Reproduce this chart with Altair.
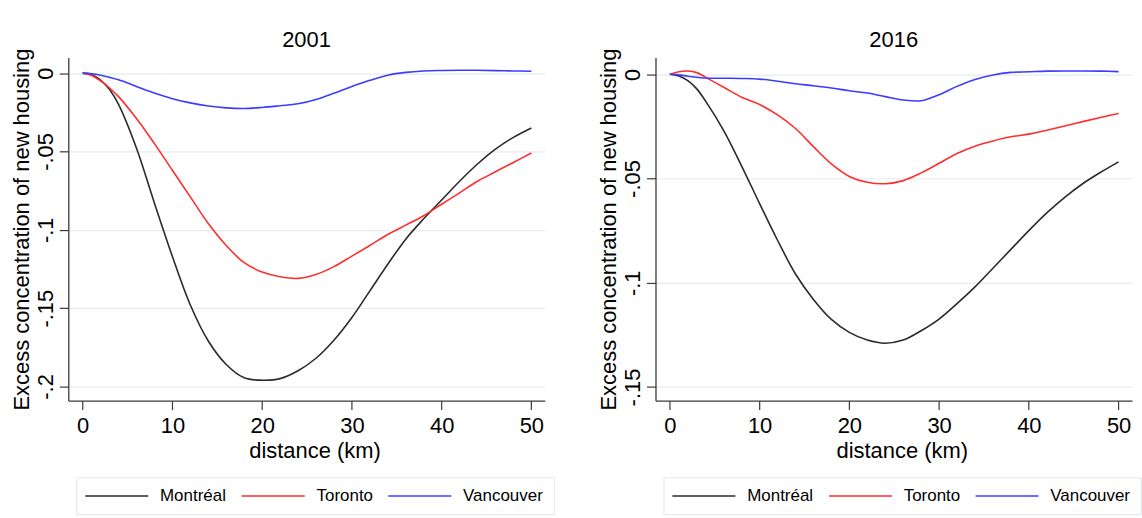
import altair as alt
import pandas as pd

# ---------------- data ----------------
distance = [0, 1, 2, 3, 4, 6, 8, 10, 12, 14, 16, 18, 20, 22, 24, 26, 28, 30,
            32, 34, 36, 38, 40, 42, 44, 46, 48, 50]

cities = ["Montréal", "Toronto", "Vancouver"]
colors = ["#2b2b2b", "#ff2e2e", "#3c3cff"]

montreal_2001 = [0, -0.0008, -0.0045, -0.0105, -0.020, -0.048, -0.083, -0.117, -0.148,
                 -0.171, -0.186, -0.1945, -0.196, -0.195, -0.190, -0.182, -0.1705,
                 -0.156, -0.139, -0.122, -0.106, -0.093, -0.081, -0.069, -0.058,
                 -0.0485, -0.041, -0.035]
toronto_2001 = [0, -0.0015, -0.005, -0.0095, -0.015, -0.029, -0.045, -0.062, -0.079,
                -0.096, -0.110, -0.121, -0.127, -0.130, -0.131, -0.1285, -0.1235,
                -0.1168, -0.110, -0.103, -0.097, -0.091, -0.0837, -0.0764, -0.069,
                -0.063, -0.057, -0.051]
vancouver_2001 = [0, -0.0004, -0.0013, -0.0027, -0.0043, -0.0085, -0.0127, -0.0163,
                  -0.0190, -0.0210, -0.0222, -0.0226, -0.0219, -0.0208, -0.0196,
                  -0.0168, -0.0128, -0.0085, -0.0046, -0.0013, 0.0005, 0.0014,
                  0.0017, 0.0018, 0.0018, 0.0016, 0.0014, 0.0012]

montreal_2016 = [0, -0.0008, -0.003, -0.007, -0.013, -0.027, -0.044, -0.062, -0.0796,
                 -0.0958, -0.108, -0.1176, -0.1238, -0.1275, -0.129, -0.1275, -0.123,
                 -0.1174, -0.110, -0.102, -0.093, -0.084, -0.075, -0.0665, -0.059,
                 -0.0525, -0.047, -0.042]
toronto_2016 = [0, 0.0012, 0.0016, 0.0008, -0.0015, -0.0062, -0.011, -0.0145, -0.0195,
                -0.026, -0.0347, -0.043, -0.049, -0.0518, -0.0525, -0.051, -0.0473,
                -0.0427, -0.038, -0.0345, -0.032, -0.030, -0.0287, -0.0268, -0.0248,
                -0.0227, -0.0207, -0.0188]
vancouver_2016 = [0, -0.0003, -0.0009, -0.0014, -0.0018, -0.0019, -0.0020, -0.0023,
                  -0.0033, -0.0045, -0.0055, -0.0066, -0.0079, -0.0090, -0.0107,
                  -0.0123, -0.0127, -0.0098, -0.0058, -0.0025, -0.0003, 0.0009,
                  0.0012, 0.0015, 0.0016, 0.0016, 0.0015, 0.0013]

x_ticks = [0, 10, 20, 30, 40, 50]
y_ticks_2001 = [0, -0.05, -0.1, -0.15, -0.2]
y_ticks_2016 = [0, -0.05, -0.1, -0.15]

series = {
    "2001": [montreal_2001, toronto_2001, vancouver_2001],
    "2016": [montreal_2016, toronto_2016, vancouver_2016],
}
rows = []
for year, lists in series.items():
    for city, vals in zip(cities, lists):
        for d, v in zip(distance, vals):
            rows.append({"year": year, "city": city, "distance": d, "value": v})
df = pd.DataFrame(rows)

FONT = "Liberation Sans"
W, H = 478, 344
label_expr = ("datum.value == 0 ? '0' : (datum.value < 0 ? '-' : '') + "
              "replace(format(abs(datum.value), '.2~f'), '0.', '.')")


def panel(year, ydomain, yticks):
    return (
        alt.Chart(df)
        .transform_filter(alt.datum.year == year)
        .mark_line(strokeWidth=1.6, interpolate="catmull-rom")
        .encode(
            x=alt.X(
                "distance:Q",
                scale=alt.Scale(domain=[-1.6, 51.5], nice=False, zero=False),
                axis=alt.Axis(
                    values=x_ticks, title="distance (km)", grid=False,
                    labelBaseline="alphabetic", labelPadding=23,
                    titleBaseline="alphabetic", titleY=57.5, titleX=W / 2 + 8,
                ),
            ),
            y=alt.Y(
                "value:Q",
                scale=alt.Scale(domain=ydomain, nice=False, zero=False),
                axis=alt.Axis(
                    values=yticks, title="Excess concentration of new housing",
                    labelExpr=label_expr, labelAngle=270, labelAlign="center",
                    labelBaseline="alphabetic", labelPadding=7,
                    titleAngle=270, titleAlign="center", titleBaseline="alphabetic",
                    titleX=-40, titleY=H / 2,
                    grid=True,
                ),
            ),
            color=alt.Color(
                "city:N",
                scale=alt.Scale(domain=cities, range=colors),
                legend=alt.Legend(
                    title=None, orient="none", legendX=8, legendY=421,
                    direction="horizontal", symbolType="M-2.5,0H14.1", symbolSize=58,
                    symbolStrokeWidth=1.5, labelFont=FONT, labelFontSize=17,
                    labelColor="black", labelOffset=57, columnPadding=11,
                    padding=10, strokeColor="#dfe7ec", fillColor="white",
                    labelLimit=300,
                ),
            ),
        )
        .properties(width=W, height=H,
                    title=alt.TitleParams(year, frame="group", offset=-4))
    )


left = panel("2001", [-0.209, 0.0099], y_ticks_2001)
right = panel("2016", [-0.1565, 0.008], y_ticks_2016)

chart = (
    alt.hconcat(left, right, spacing=111, bounds="flush")
    .resolve_scale(color="independent", x="independent", y="independent")
    .resolve_legend(color="independent")
    .properties(padding={"left": 9.5, "top": 28, "right": 0, "bottom": 0},
                background="white")
    .configure_view(stroke=None)
    .configure_axis(
        labelFont=FONT, labelFontSize=22, labelColor="black",
        titleFont=FONT, titleFontSize=22, titleColor="black", titleFontWeight="normal",
        domainColor="#3a3a3a", domainWidth=1.3, tickColor="#3a3a3a", tickWidth=1.2,
        tickSize=9, gridColor="#e4ecef", gridWidth=1.2, labelOverlap=False,
        labelFlush=False,
    )
    .configure_title(font=FONT, fontSize=22, fontWeight="normal", color="black",
                     baseline="alphabetic", anchor="middle")
)

chart.save("out.html", embed_options={"renderer": "svg", "actions": False})
